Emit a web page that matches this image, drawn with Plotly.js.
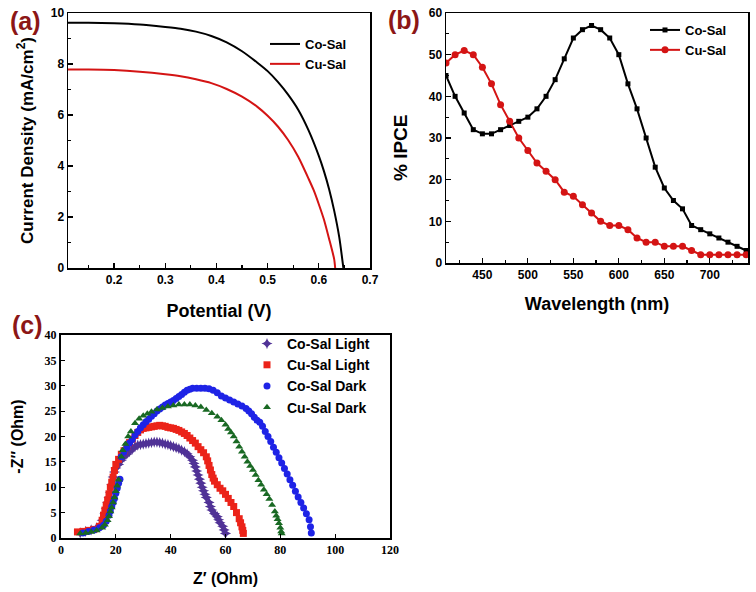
<!DOCTYPE html>
<html><head><meta charset="utf-8">
<script src="https://cdn.plot.ly/plotly-3.0.1.min.js"></script>
<style>html,body{margin:0;padding:0;background:#fff}#chart{width:756px;height:592px}</style>
</head><body><div id="chart"></div>
<script>
// ---- Panel (a): J-V curves ----
const jvCoV = [0.11,0.15,0.20,0.25,0.30,0.33,0.36,0.39,0.42,0.45,0.48,0.50,0.52,0.54,0.56,0.58,0.60,0.61,0.62,0.63,0.64,0.648];
const jvCoJ = [9.62,9.62,9.60,9.55,9.45,9.38,9.27,9.10,8.85,8.50,8.05,7.72,7.30,6.80,6.20,5.40,4.40,3.80,3.10,2.25,1.20,0.00];
const jvCuV = [0.11,0.15,0.20,0.25,0.30,0.33,0.36,0.39,0.42,0.45,0.48,0.50,0.52,0.54,0.56,0.58,0.59,0.60,0.61,0.62,0.63,0.632];
const jvCuJ = [7.78,7.78,7.76,7.70,7.60,7.52,7.40,7.25,7.02,6.72,6.32,5.97,5.55,5.02,4.35,3.50,3.05,2.50,1.90,1.15,0.35,0.00];

// ---- Panel (b): IPCE ----
const wavelength = [410,420,430,440,450,460,470,480,490,500,510,520,530,540,550,560,570,580,590,600,610,620,630,640,650,660,670,680,690,700,710,720,730,740];
const ipceCo = [45,40,36,32,31,31,32,33,34,35,37,40,44,49,54,56,57,56,54,50,43,37,30,23,18,15,13,9,8,7,6,5,4,3];
const ipceCu = [48,50,51,50,47,43,38,34,30,27,24,22,20,17,16,14,12,10,9,9,8,6,5,5,4,4,4,3,2,2,2,2,2,2];

// ---- Panel (c): Nyquist plots ----
const coLightX = [7,9,11,13,14,15,16,16.5,17,17.5,18,18.5,19,19.5,20,21,22,23,24,25,26,27,28,29,30,31,32,33,34,35,36,37,38,39,40,41,42,43,44,45,46,47,48,48.5,49,49.5,50,50.5,51,51.5,52,52.5,53,54,54.5,55,56,57,57.5,58,59,59.5,60];
const coLightY = [1.0,1.3,1.6,2.0,2.2,3.5,4.8,5.8,7.0,8.0,9.0,10.5,12.0,13.0,13.8,14.5,15.3,16.0,16.5,17.0,17.5,18.0,18.3,18.4,18.5,18.6,18.7,18.8,18.9,18.9,18.8,18.7,18.5,18.4,18.2,18.0,17.8,17.6,17.3,17.0,16.6,16.0,15.3,14.7,14.0,13.2,12.4,11.6,10.8,10.0,9.3,8.6,8.0,7.0,6.2,5.5,4.8,4.2,3.6,3.0,2.3,1.6,0.9];
const cuLightX = [6,8,10,12,14,15,15.5,16,16.5,17,17.5,18,18.5,19,19.5,20,21,22,23,24,25,26,27,28,29,30,31,32,33,34,35,36,37,38,39,40,41,42,43,44,45,46,47,48,49,50,51,52,53,53.5,54,54.5,55,55.5,56,57,58,59,60,61,62,63,64,65,65.5,66,66.3,66.5];
const cuLightY = [1.2,1.3,1.5,1.7,2.3,3.5,4.5,5.5,6.5,7.5,8.7,10.0,11.0,12.0,13.3,14.5,15.5,16.5,17.2,18.0,18.8,19.5,20.2,20.8,21.3,21.6,21.7,21.8,21.9,22.0,22.1,22.2,22.1,22.0,21.8,21.7,21.6,21.4,21.2,20.9,20.6,20.2,19.7,19.2,18.7,18.0,17.4,16.8,16.0,15.2,14.3,13.4,12.5,11.8,11.2,10.5,9.8,9.3,8.6,7.8,7.0,6.2,5.0,3.8,3.0,2.2,1.5,0.9];
const coDarkX = [8,10,12,14,15.5,16.5,17.5,18,18.5,19,19.5,20,20.5,21,21.5,22,23,24,25,26,27,28,29,30,31,32,33,34,35,36,37,38,39,40,41,42,43,44,45,46,47,48,49.5,51,52.5,54,55.5,57,58.5,60,61.5,63,64.5,66,67.5,68.5,69.5,70.5,71.5,72.5,73.5,74.5,75.5,76.5,77.5,78.5,79.5,80.5,81.5,82.5,83.5,84.5,85.5,86.5,87.5,88.5,89.5,90.5,91,91.3];
const coDarkY = [1.0,1.3,1.6,2.0,2.5,3.3,4.5,5.3,6.2,7.0,7.8,8.8,9.8,10.8,11.6,16.0,17.0,17.8,18.7,19.4,20.3,21.0,21.7,22.3,22.9,23.4,24.0,24.5,25.0,25.4,25.8,26.2,26.5,26.8,27.1,27.5,27.9,28.3,28.7,29.1,29.3,29.5,29.5,29.5,29.5,29.4,29.1,28.6,28.0,27.6,27.2,26.8,26.4,26.0,25.5,25.0,24.5,23.8,23.2,22.8,22.0,21.0,20.0,19.0,17.9,16.9,15.8,14.8,13.7,12.6,11.5,10.4,9.2,8.1,7.0,5.9,4.8,3.6,2.2,1.0];
const cuDarkX = [7,9,11,13,15,16,17,17.5,18,18.5,19,19.5,20,20.5,21,22,22.5,23.5,24.5,25.5,27,28.5,30,31.5,33,35,37,39,41,43,45,47,49,51,53,55,57,58.5,60,61,62,63,64,65,66,67,68,69,70,71,72,73,74,75,76,77,78,78.5,79,79.5,80,80.3,80.5];
const cuDarkY = [0.9,1.0,1.2,1.5,2.0,2.6,3.5,4.3,5.2,6.0,7.0,8.0,9.2,10.3,11.5,16.0,17.3,18.5,20.0,21.0,22.6,23.5,24.1,24.5,24.9,25.3,25.6,25.9,26.1,26.3,26.3,26.3,26.1,25.8,25.2,24.6,23.9,23.2,22.3,21.5,20.8,20.0,19.0,18.0,17.0,16.0,15.0,14.2,13.4,12.4,11.4,10.5,9.5,8.6,7.7,6.5,5.2,4.4,3.7,2.9,2.0,1.3,0.9];

const W = 756, H = 592;
const fx = p => p / W;
const fy = p => 1 - p / H;
const SANS = 'Liberation Sans, Arial, sans-serif';
const SERIF = 'Liberation Serif, Times New Roman, serif';
const RED = '#d41414';
const LABEL = 'rgb(140,22,22)';

const traces = [
  {x: jvCoV, y: jvCoJ, type: 'scatter', mode: 'lines', name: 'Co-Sal', line: {color: '#000', width: 2, shape: 'spline', smoothing: 0.6}, xaxis: 'x', yaxis: 'y', legend: 'legend'},
  {x: jvCuV, y: jvCuJ, type: 'scatter', mode: 'lines', name: 'Cu-Sal', line: {color: RED, width: 2, shape: 'spline', smoothing: 0.6}, xaxis: 'x', yaxis: 'y', legend: 'legend'},
  {x: wavelength, y: ipceCo, type: 'scatter', mode: 'lines+markers', name: 'Co-Sal', line: {color: '#000', width: 2}, marker: {symbol: 'square', size: 5, color: '#000'}, xaxis: 'x2', yaxis: 'y2', legend: 'legend2'},
  {x: wavelength, y: ipceCu, type: 'scatter', mode: 'lines+markers', name: 'Cu-Sal', line: {color: RED, width: 2}, marker: {symbol: 'circle', size: 7, color: RED}, xaxis: 'x2', yaxis: 'y2', legend: 'legend2'},
  {x: coLightX, y: coLightY, type: 'scatter', mode: 'markers', name: 'Co-Sal Light', marker: {symbol: 'star-diamond', size: 8, color: 'rgb(80,50,150)'}, xaxis: 'x3', yaxis: 'y3', legend: 'legend3'},
  {x: cuLightX, y: cuLightY, type: 'scatter', mode: 'markers', name: 'Cu-Sal Light', marker: {symbol: 'square', size: 7, color: 'rgb(235,35,25)'}, xaxis: 'x3', yaxis: 'y3', legend: 'legend3'},
  {x: coDarkX, y: coDarkY, type: 'scatter', mode: 'markers', name: 'Co-Sal Dark', marker: {symbol: 'circle', size: 7, color: 'rgb(30,35,230)'}, xaxis: 'x3', yaxis: 'y3', legend: 'legend3'},
  {x: cuDarkX, y: cuDarkY, type: 'scatter', mode: 'markers', name: 'Cu-Sal Dark', marker: {symbol: 'triangle-up', size: 7, color: 'rgb(25,105,35)'}, xaxis: 'x3', yaxis: 'y3', legend: 'legend3'}
];

const boldTick = {family: SANS, size: 12, color: '#000', weight: 'bold'};
const serifTick = {family: SERIF, size: 12, color: '#000', weight: 'bold'};
const axTitle = (t, sz, sd) => ({text: t, font: {family: SANS, size: sz, color: '#000', weight: 'bold'}, standoff: sd});
const baseAx = {showline: true, linecolor: '#000', linewidth: 1.5, mirror: true, ticks: 'inside', ticklen: 5, tickwidth: 1.2, tickcolor: '#000', showgrid: false, zeroline: false, automargin: false};

const legendBase = {bgcolor: 'rgba(0,0,0,0)', borderwidth: 0, xanchor: 'left', yanchor: 'top', itemwidth: 30, tracegroupgap: 0};

const layout = {
  width: W, height: H,
  margin: {l: 0, r: 0, t: 0, b: 0},
  paper_bgcolor: '#fff', plot_bgcolor: '#fff',
  showlegend: true,
  font: {family: SANS, color: '#000'},
  xaxis: Object.assign({}, baseAx, {domain: [fx(68), fx(370)], anchor: 'y', range: [0.11, 0.7], tick0: 0, dtick: 0.1, tickformat: '.1f', tickfont: boldTick, minor: {dtick: 0.05, ticks: 'inside', ticklen: 3, tickcolor: '#000'}, title: axTitle('Potential (V)', 18, 18)}),
  yaxis: Object.assign({}, baseAx, {domain: [fy(268), fy(13)], anchor: 'x', range: [0, 10], dtick: 2, tickfont: boldTick, minor: {dtick: 1, ticks: 'inside', ticklen: 3, tickcolor: '#000'}, title: axTitle('Current Density (mA/cm<sup>2</sup>)', 17, 13)}),
  xaxis2: Object.assign({}, baseAx, {domain: [fx(446), fx(748)], anchor: 'y2', range: [410, 742], tick0: 0, dtick: 50, tickfont: boldTick, minor: {dtick: 25, ticks: 'inside', ticklen: 3, tickcolor: '#000'}, title: axTitle('Wavelength (nm)', 18, 16)}),
  yaxis2: Object.assign({}, baseAx, {domain: [fy(263), fy(13)], anchor: 'x2', range: [0, 60], dtick: 10, tickfont: boldTick, minor: {dtick: 5, ticks: 'inside', ticklen: 3, tickcolor: '#000'}}),
  xaxis3: Object.assign({}, baseAx, {domain: [fx(61), fx(390)], anchor: 'y3', range: [0, 120], dtick: 20, linewidth: 2, ticklen: 4, tickfont: serifTick, title: axTitle('Z\u2032 (Ohm)', 16, 16)}),
  yaxis3: Object.assign({}, baseAx, {domain: [fy(538), fy(335)], anchor: 'x3', range: [0, 40], dtick: 5, linewidth: 2, ticklen: 4, tickfont: serifTick, title: axTitle('-Z\u2033 (Ohm)', 16, 17)}),
  legend: Object.assign({}, legendBase, {x: fx(265), y: fy(29), font: {family: SANS, size: 13, color: '#000', weight: 'bold'}}),
  legend2: Object.assign({}, legendBase, {x: fx(645), y: fy(15), font: {family: SANS, size: 13, color: '#000', weight: 'bold'}}),
  legend3: Object.assign({}, legendBase, {x: fx(247), y: fy(328), font: {family: SANS, size: 14, color: '#000', weight: 'bold'}}),
  annotations: [
    {text: '% IPCE', xref: 'paper', yref: 'paper', x: fx(400), y: fy(148), xanchor: 'center', yanchor: 'middle', textangle: -90, showarrow: false, font: {family: SANS, size: 19, color: '#000', weight: 'bold'}},
    {text: '(a)', xref: 'paper', yref: 'paper', x: fx(25), y: fy(21), xanchor: 'center', yanchor: 'middle', showarrow: false, font: {family: SANS, size: 25, color: LABEL, weight: 'bold'}},
    {text: '(b)', xref: 'paper', yref: 'paper', x: fx(404), y: fy(20), xanchor: 'center', yanchor: 'middle', showarrow: false, font: {family: SANS, size: 25, color: LABEL, weight: 'bold'}},
    {text: '(c)', xref: 'paper', yref: 'paper', x: fx(27), y: fy(325), xanchor: 'center', yanchor: 'middle', showarrow: false, font: {family: SANS, size: 25, color: LABEL, weight: 'bold'}}
  ]
};

Plotly.newPlot('chart', traces, layout, {displayModeBar: false, staticPlot: true});
</script>
</body></html>
